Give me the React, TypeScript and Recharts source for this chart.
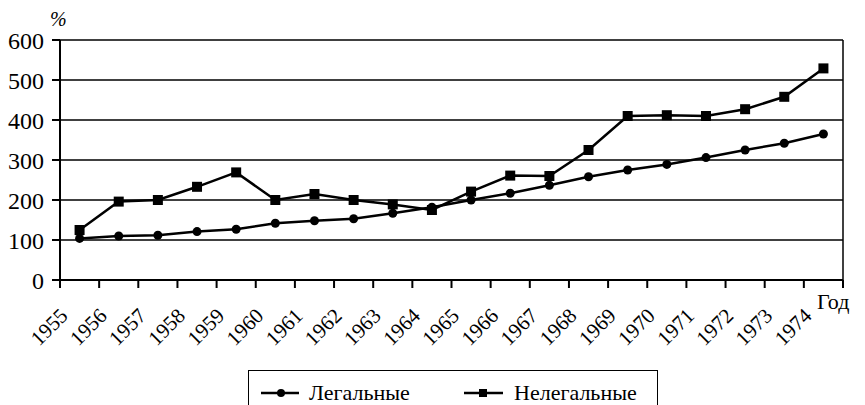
import {
  LineChart,
  Line,
  XAxis,
  YAxis,
  CartesianGrid,
  ReferenceLine,
  Legend,
} from "recharts";

// Годы (категории)
const years = [
  1955, 1956, 1957, 1958, 1959, 1960, 1961, 1962, 1963, 1964,
  1965, 1966, 1967, 1968, 1969, 1970, 1971, 1972, 1973, 1974,
];

// Легальные, %
const legal = [
  104, 110, 112, 121, 127, 142, 148, 153, 167, 182,
  200, 217, 237, 258, 275, 289, 306, 325, 342, 365,
];

// Нелегальные, %
const illegal = [
  125, 196, 200, 233, 269, 200, 215, 200, 189, 175,
  221, 261, 260, 325, 410, 412, 410, 427, 458, 529,
];

const yTicks = [0, 100, 200, 300, 400, 500, 600];
const xTicks = [...years, 1975];

const FONT = "Liberation Serif, Tinos, Times New Roman, serif";

// точки ставим в середину интервала года
const data = years.map((year, i) => ({
  x: year + 0.5,
  legal: legal[i],
  illegal: illegal[i],
}));

const YearTick = (props: any) => {
  const { x, y, payload } = props;
  if (payload.value === 1975) {
    return (
      <text x={x - 26} y={309} style={{ fontFamily: FONT }} fontSize={22} fill="#000">
        Год
      </text>
    );
  }
  return (
    <g transform={`translate(${x + 9},${y + 27})`}>
      <text
        x={0}
        y={0}
        textAnchor="end"
        transform="rotate(-45)"
        style={{ fontFamily: FONT }}
        fontSize={21}
        fill="#000"
      >
        {payload.value}
      </text>
    </g>
  );
};

const SquareDot = (props: any) => {
  const { cx, cy, index } = props;
  return <rect key={`sq-${index}`} x={cx - 5} y={cy - 5} width={10} height={10} fill="#000" />;
};

const LegendBox = () => (
  <div
    style={{
      width: 410,
      height: 50,
      border: "1.5px solid #000",
      boxSizing: "border-box",
      position: "relative",
    }}
  >
    <svg width={410} height={50} style={{ position: "absolute", left: 0, top: 0 }}>
      <line x1={12} y1={22} x2={50} y2={22} stroke="#000" strokeWidth={2.5} />
      <circle cx={32} cy={22} r={4} fill="#000" />
      <text x={60} y={29} style={{ fontFamily: FONT }} fontSize={22} fill="#000">
        Легальные
      </text>
      <line x1={215} y1={22} x2={254} y2={22} stroke="#000" strokeWidth={2.5} />
      <rect x={230} y={18} width={8} height={8} fill="#000" />
      <text x={265} y={29} style={{ fontFamily: FONT }} fontSize={22} fill="#000">
        Нелегальные
      </text>
    </svg>
  </div>
);

export default function App() {
  return (
    <div
      style={{
        position: "absolute",
        left: 0,
        top: 0,
        width: 865,
        height: 405,
        background: "#fff",
        fontFamily: FONT,
      }}
    >
      <LineChart
        width={865}
        height={405}
        data={data}
        margin={{ top: 40, right: 22, bottom: 0, left: 0 }}
        style={{ fontFamily: FONT }}
      >
        <CartesianGrid vertical={false} stroke="#000" strokeWidth={1.5} />
        <XAxis
          dataKey="x"
          type="number"
          domain={[1955, 1975]}
          ticks={xTicks}
          interval={0}
          height={125}
          tickSize={8}
          tick={<YearTick />}
          axisLine={{ stroke: "#000", strokeWidth: 2 }}
          tickLine={{ stroke: "#000", strokeWidth: 2 }}
        />
        <YAxis
          domain={[0, 600]}
          ticks={yTicks}
          width={60}
          tickSize={8}
          tickMargin={8}
          tick={{ fill: "#000", fontSize: 24, style: { fontFamily: FONT } }}
          axisLine={{ stroke: "#000", strokeWidth: 2 }}
          tickLine={{ stroke: "#000", strokeWidth: 2 }}
          label={{
            value: "%",
            position: "insideTopLeft",
            offset: 0,
            dx: 50,
            dy: -28,
            fill: "#000",
            fontSize: 20,
            fontStyle: "italic",
            style: { fontFamily: FONT },
          }}
        />
        <ReferenceLine x={1975} stroke="#000" strokeWidth={1.5} ifOverflow="extendDomain" />
        <Line
          dataKey="legal"
          name="Легальные"
          stroke="#000"
          strokeWidth={2.5}
          dot={{ r: 4.5, fill: "#000", stroke: "#000", strokeWidth: 0 }}
          isAnimationActive={false}
        />
        <Line
          dataKey="illegal"
          name="Нелегальные"
          stroke="#000"
          strokeWidth={2.5}
          dot={<SquareDot />}
          isAnimationActive={false}
        />
        <Legend
          layout="horizontal"
          verticalAlign="middle"
          align="center"
          content={<LegendBox />}
          wrapperStyle={{ left: 248, top: 370, width: 410 }}
        />
      </LineChart>
    </div>
  );
}
